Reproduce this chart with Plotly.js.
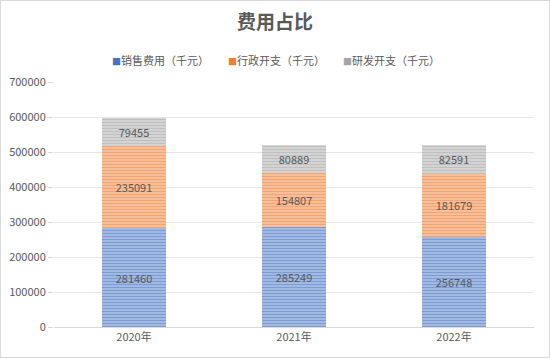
<!DOCTYPE html>
<html><head><meta charset="utf-8">
<script src="https://cdn.plot.ly/plotly-3.0.1.min.js"></script>
<style>html,body{margin:0;padding:0;background:#fff}#w{position:relative;width:550px;height:358px}#c{width:550px;height:358px}
#b{position:absolute;left:0;top:0;width:550px;height:358px;box-sizing:border-box;border:1px solid #d9d9d9;pointer-events:none}</style>
</head><body><div id="w"><div id="c"></div><div id="b"></div></div>
<script>
const categories = ["2020年", "2021年", "2022年"];
const sales = [281460, 285249, 256748];
const admin = [235091, 154807, 181679];
const rnd = [79455, 80889, 82591];
const seriesNames = ["销售费用（千元）", "行政开支（千元）", "研发开支（千元）"];
const yTicks = [0, 100000, 200000, 300000, 400000, 500000, 600000, 700000];

const font = "Microsoft YaHei, Noto Sans CJK SC, sans-serif";
const baseColors = ["#4472C4", "#ED7D31", "#A5A5A5"];
const lightColors = ["#b4c7e7", "#f8cbad", "#dbdbdb"];
function tr(name, vals, i) {
  return {
    type: "bar", name: name, x: categories, y: vals, showlegend: false,
    text: vals.map(String), textposition: "inside", insidetextanchor: "middle",
    textfont: {color: "#595959", size: 11, family: font},
    marker: {color: lightColors[i], line: {width: 0},
      pattern: {shape: "-", fgcolor: baseColors[i], size: 3, solidity: 0.55, fillmode: "overlay"}},
    width: 0.4
  };
}
const data = [tr(seriesNames[0], sales, 0), tr(seriesNames[1], admin, 1), tr(seriesNames[2], rnd, 2)];
const legendX = [110, 226, 341];
const annotations = seriesNames.map((n, i) => ({
  xref: "paper", yref: "paper", x: (legendX[i] - 54) / 480, y: 1 + 22/245,
  xanchor: "left", yanchor: "middle", showarrow: false,
  text: "<span style='color:" + baseColors[i] + ";font-size:9px'>■</span>" + n,
  font: {size: 11, color: "#595959", family: font}
}));
const layout = {
  width: 550, height: 358,
  margin: {l: 54, r: 16, t: 82, b: 31},
  barmode: "stack", showlegend: false,
  paper_bgcolor: "#fff", plot_bgcolor: "#fff",
  title: {text: "<b>费用占比</b>", x: 0.5, xanchor: "center", y: 1 - 22/358, yanchor: "middle",
    font: {size: 19, color: "#595959", family: font}},
  annotations: annotations,
  xaxis: {type: "category", showgrid: false, showline: true, linecolor: "#d9d9d9", linewidth: 1,
    ticks: "", tickfont: {size: 11, color: "#595959", family: font}, fixedrange: true},
  yaxis: {range: [0, 700000], tickvals: yTicks, ticktext: yTicks.map(String),
    showgrid: true, gridcolor: "#e6e6e6", gridwidth: 1, zeroline: false,
    ticks: "outside", ticklen: 5, tickcolor: "#d9d9d9",
    tickfont: {size: 11, color: "#595959", family: font}, fixedrange: true}
};
Plotly.newPlot("c", data, layout, {displayModeBar: false, staticPlot: true});
</script></body></html>
